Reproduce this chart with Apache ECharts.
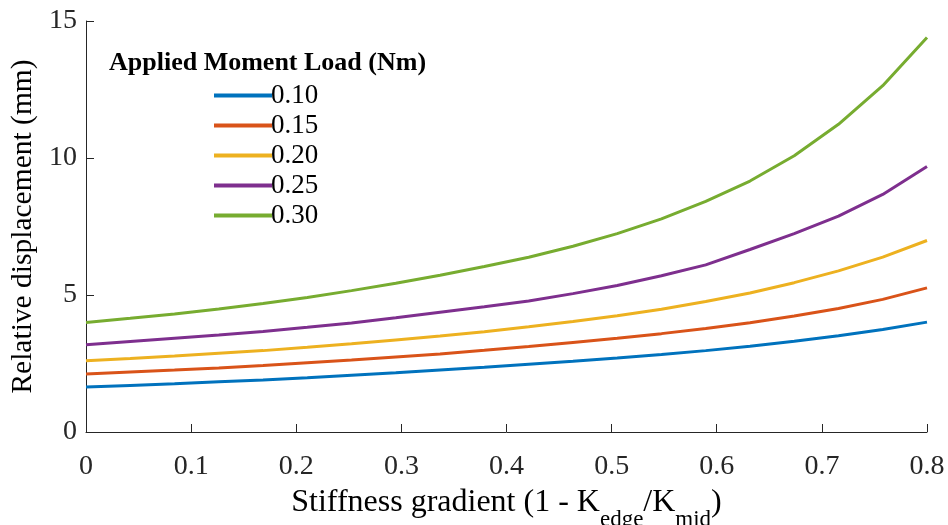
<!DOCTYPE html>
<html>
<head>
<meta charset="utf-8">
<script src="https://cdn.jsdelivr.net/npm/echarts@6/dist/echarts.min.js"></script>
<style>html,body{margin:0;padding:0;background:#fff}#c{width:948px;height:525px}</style>
</head>
<body>
<div id="c"></div>
<script>
const xValues = [0, 0.0421, 0.0842, 0.1263, 0.1684, 0.2105, 0.2526, 0.2947, 0.3368, 0.3789, 0.4211, 0.4632, 0.5053, 0.5474, 0.5895, 0.6316, 0.6737, 0.7158, 0.7579, 0.8];
const seriesNames = ['0.10', '0.15', '0.20', '0.25', '0.30'];
const load010 = [1.64, 1.70, 1.76, 1.83, 1.90, 1.98, 2.07, 2.16, 2.26, 2.36, 2.47, 2.58, 2.70, 2.83, 2.97, 3.13, 3.31, 3.51, 3.74, 4.01];
const load015 = [2.12, 2.19, 2.26, 2.34, 2.43, 2.53, 2.63, 2.74, 2.85, 2.98, 3.12, 3.27, 3.42, 3.59, 3.78, 3.99, 4.23, 4.51, 4.84, 5.26];
const load020 = [2.60, 2.68, 2.77, 2.87, 2.97, 3.09, 3.22, 3.36, 3.50, 3.66, 3.84, 4.03, 4.24, 4.48, 4.76, 5.07, 5.45, 5.88, 6.38, 6.99];
const load025 = [3.18, 3.30, 3.42, 3.54, 3.67, 3.82, 3.98, 4.17, 4.37, 4.57, 4.78, 5.05, 5.35, 5.70, 6.10, 6.66, 7.24, 7.88, 8.67, 9.69];
const load030 = [4.00, 4.15, 4.31, 4.49, 4.69, 4.91, 5.16, 5.43, 5.72, 6.04, 6.38, 6.78, 7.24, 7.78, 8.42, 9.16, 10.08, 11.23, 12.64, 14.40];
const xTicks = [0, 0.1, 0.2, 0.3, 0.4, 0.5, 0.6, 0.7, 0.8];
const yTicks = [0, 5, 10, 15];

const allData = [load010, load015, load020, load025, load030];
const colors = ['#0072BD', '#D95319', '#EDB120', '#7E2F8E', '#77AC30'];
const FONT = '"Liberation Serif", "DejaVu Serif", serif';
const AX = '#262626';

const chart = echarts.init(document.getElementById('c'), null, {renderer: 'canvas'});
chart.setOption({
  backgroundColor: '#ffffff',
  animation: false,
  color: colors,
  title: {
    text: 'Applied Moment Load (Nm)',
    left: 104, top: 45,
    textStyle: {fontFamily: FONT, fontWeight: 'bold', fontSize: 26, color: '#000'}
  },
  legend: {
    orient: 'vertical',
    left: 209, top: 77,
    itemWidth: 58, itemHeight: 4,
    itemGap: 3,
    icon: 'rect',
    data: seriesNames,
    textStyle: {fontFamily: FONT, fontSize: 27, color: '#000', padding: [0, 0, 0, -6]}
  },
  grid: {left: 86, right: 21, top: 21, bottom: 93, containLabel: false, outerBoundsMode: 'none'},
  xAxis: {
    type: 'value',
    min: 0, max: 0.8, interval: 0.1,
    name: '{n|Stiffness gradient (1 - K}{s|edge}{n|/K}{s|mid}{n|)}',
    nameLocation: 'middle',
    nameGap: 43,
    nameTextStyle: {
      rich: {
        n: {fontFamily: FONT, fontSize: 32, color: '#000', lineHeight: 36, padding: [0, 0, 13, 0]},
        s: {fontFamily: FONT, fontSize: 23, color: '#000', lineHeight: 26, padding: [23, 0, 0, 0]}
      }
    },
    axisLine: {show: true, lineStyle: {color: AX, width: 1}},
    axisTick: {show: true, inside: true, length: 8, lineStyle: {color: AX}},
    splitLine: {show: false},
    axisLabel: {
      margin: 21, fontFamily: FONT, fontSize: 28, color: AX,
      formatter: v => { const t = xTicks.find(a => Math.abs(a - v) < 1e-6); return t === undefined ? '' : String(t); }
    }
  },
  yAxis: {
    type: 'value',
    min: 0, max: 15, interval: 5,
    name: 'Relative displacement (mm)',
    nameLocation: 'middle',
    nameGap: 35,
    nameTextStyle: {fontFamily: FONT, fontSize: 29.5, color: '#000'},
    axisLine: {show: true, lineStyle: {color: AX, width: 1}},
    axisTick: {show: true, inside: true, length: 8, lineStyle: {color: AX}},
    splitLine: {show: false},
    axisLabel: {
      margin: 9, fontFamily: FONT, fontSize: 28, color: AX,
      formatter: v => { const t = yTicks.find(a => Math.abs(a - v) < 1e-6); return t === undefined ? '' : String(t); }
    }
  },
  series: seriesNames.map((name, k) => ({
    name: name,
    type: 'line',
    data: xValues.map((x, i) => [x, allData[k][i]]),
    showSymbol: false,
    symbol: 'none',
    lineStyle: {width: 3, color: colors[k]},
    itemStyle: {color: colors[k]}
  }))
});
</script>
</body>
</html>
